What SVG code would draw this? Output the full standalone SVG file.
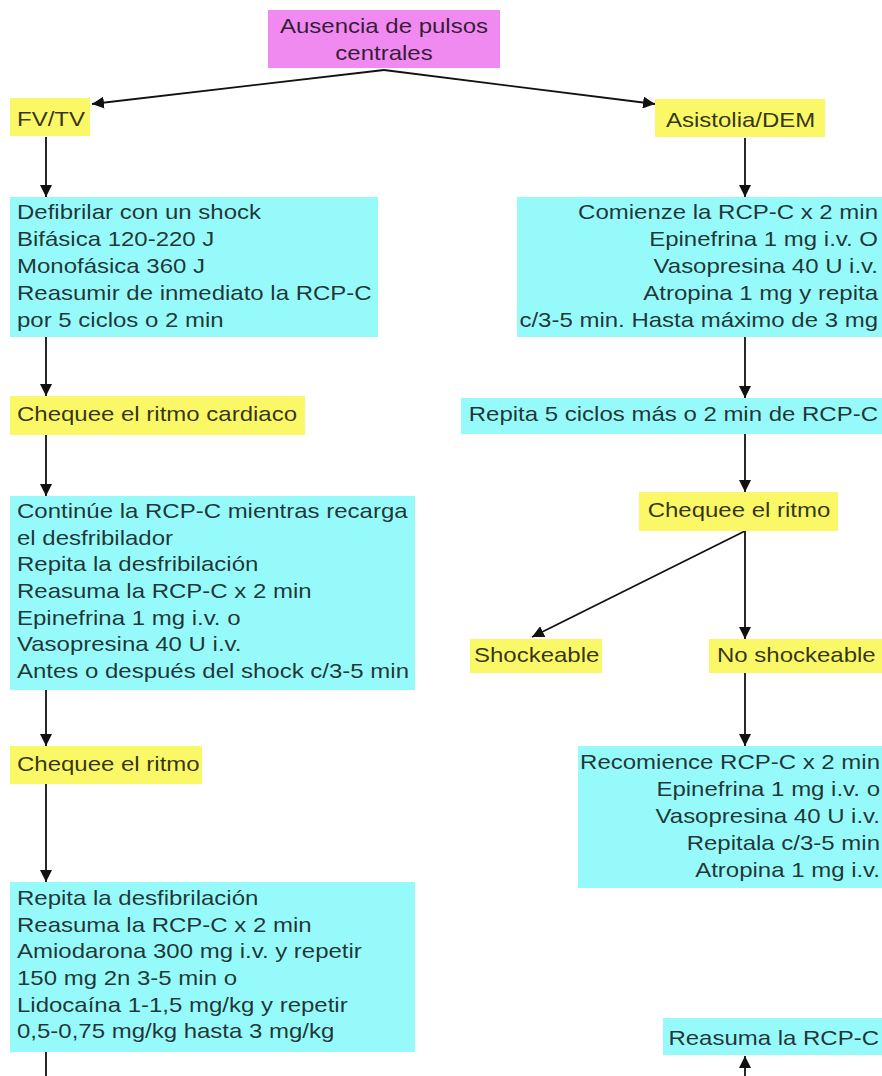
<svg xmlns="http://www.w3.org/2000/svg" width="882" height="1076" viewBox="0 0 882 1076">
<style>
.cy{fill:#97FAFA}
.ye{fill:#FAF866}
.pk{fill:#F08AF0}
text{font-family:"Liberation Sans",Arial,sans-serif;font-size:20px;fill:#000;fill-opacity:0.8}
.e{text-anchor:end}
.m{text-anchor:middle}
.c{stroke:#111;stroke-width:1.8;fill:none;marker-end:url(#ah)}
.cn{stroke:#111;stroke-width:1.8;fill:none}
</style>
<defs>
<marker id="ah" viewBox="0 0 10 10" refX="10" refY="5" markerWidth="12" markerHeight="12" markerUnits="userSpaceOnUse" orient="auto">
<path d="M0,0 L10,5 L0,10 z" fill="#111"/>
</marker>
</defs>
<rect width="882" height="1076" fill="#fff"/>

<g id="connectors">
<path class="c" d="M384,70 L92,104"/>
<path class="c" d="M384,70 L655,104"/>
<path class="c" d="M46,137 V197"/>
<path class="c" d="M745,138 V197"/>
<path class="c" d="M46,337 V396"/>
<path class="c" d="M745,337 V398"/>
<path class="c" d="M46,435 V496"/>
<path class="c" d="M745,434 V492"/>
<path class="c" d="M46,690 V746"/>
<path class="c" d="M745,531 L532,637"/>
<path class="c" d="M745,531 V639"/>
<path class="c" d="M745,673 V746"/>
<path class="c" d="M46,784 V882"/>
<path class="cn" d="M46,1052 V1076"/>
<path class="c" d="M745,1076 V1056"/>
</g>

<g id="n-ausencia">
<rect class="pk" x="268" y="10" width="232" height="58"/>
<g transform="translate(384,0) scale(1.2,1)">
<text class="m" x="0" y="33">Ausencia de pulsos</text>
<text class="m" x="0" y="60">centrales</text>
</g>
</g>

<g id="n-fvtv">
<rect class="ye" x="10" y="98" width="80" height="38"/>
<g transform="translate(17,0) scale(1.2,1)"><text x="0" y="126">FV/TV</text></g>
</g>

<g id="n-asistolia">
<rect class="ye" x="655" y="99" width="170" height="38"/>
<g transform="translate(666,0) scale(1.2,1)"><text x="0" y="127">Asistolia/DEM</text></g>
</g>

<g id="n-defibrilar">
<rect class="cy" x="10" y="197" width="368" height="140"/>
<g transform="translate(17,0) scale(1.2,1)">
<text x="0" y="219">Defibrilar con un shock</text>
<text x="0" y="246">Bifásica 120-220 J</text>
<text x="0" y="273">Monofásica 360 J</text>
<text x="0" y="300">Reasumir de inmediato la RCP-C</text>
<text x="0" y="327">por 5 ciclos o 2 min</text>
</g>
</g>

<g id="n-comienze">
<rect class="cy" x="517" y="197" width="365" height="140"/>
<g transform="translate(878,0) scale(1.2,1)">
<text class="e" x="0" y="219">Comienze la RCP-C x 2 min</text>
<text class="e" x="0" y="246">Epinefrina 1 mg i.v. O</text>
<text class="e" x="0" y="273">Vasopresina 40 U i.v.</text>
<text class="e" x="0" y="300">Atropina 1 mg y repita</text>
<text class="e" x="0" y="327">c/3-5 min. Hasta máximo de 3 mg</text>
</g>
</g>

<g id="n-chequee-cardiaco">
<rect class="ye" x="10" y="396" width="295" height="39"/>
<g transform="translate(17,0) scale(1.2,1)"><text x="0" y="421">Chequee el ritmo cardiaco</text></g>
</g>

<g id="n-repita5">
<rect class="cy" x="461" y="398" width="421" height="36"/>
<g transform="translate(878,0) scale(1.2,1)"><text class="e" x="0" y="421">Repita 5 ciclos más o 2 min de RCP-C</text></g>
</g>

<g id="n-continue">
<rect class="cy" x="10" y="496" width="405" height="194"/>
<g transform="translate(17,0) scale(1.2,1)">
<text x="0" y="518">Continúe la RCP-C mientras recarga</text>
<text x="0" y="545">el desfribilador</text>
<text x="0" y="571">Repita la desfribilación</text>
<text x="0" y="598">Reasuma la RCP-C x 2 min</text>
<text x="0" y="625">Epinefrina 1 mg i.v. o</text>
<text x="0" y="651">Vasopresina 40 U i.v.</text>
<text x="0" y="678">Antes o después del shock c/3-5 min</text>
</g>
</g>

<g id="n-chequee-right">
<rect class="ye" x="639" y="492" width="199" height="39"/>
<g transform="translate(739,0) scale(1.2,1)"><text class="m" x="0" y="517">Chequee el ritmo</text></g>
</g>

<g id="n-shockeable">
<rect class="ye" x="470" y="639" width="132" height="34"/>
<g transform="translate(474,0) scale(1.2,1)"><text x="0" y="662">Shockeable</text></g>
</g>

<g id="n-noshockeable">
<rect class="ye" x="709" y="639" width="173" height="34"/>
<g transform="translate(717,0) scale(1.2,1)"><text x="0" y="662">No shockeable</text></g>
</g>

<g id="n-chequee-left">
<rect class="ye" x="10" y="746" width="192" height="38"/>
<g transform="translate(17,0) scale(1.2,1)"><text x="0" y="771">Chequee el ritmo</text></g>
</g>

<g id="n-recomience">
<rect class="cy" x="578" y="746" width="304" height="142"/>
<g transform="translate(880,0) scale(1.2,1)">
<text class="e" x="0" y="769">Recomience RCP-C x 2 min</text>
<text class="e" x="0" y="796">Epinefrina 1 mg i.v. o</text>
<text class="e" x="0" y="823">Vasopresina 40 U i.v.</text>
<text class="e" x="0" y="850">Repitala c/3-5 min</text>
<text class="e" x="0" y="877">Atropina 1 mg i.v.</text>
</g>
</g>

<g id="n-repita-desf">
<rect class="cy" x="10" y="882" width="405" height="170"/>
<g transform="translate(17,0) scale(1.2,1)">
<text x="0" y="905">Repita la desfibrilación</text>
<text x="0" y="932">Reasuma la RCP-C x 2 min</text>
<text x="0" y="958">Amiodarona 300 mg i.v. y repetir</text>
<text x="0" y="985">150 mg 2n 3-5 min o</text>
<text x="0" y="1012">Lidocaína 1-1,5 mg/kg y repetir</text>
<text x="0" y="1038">0,5-0,75 mg/kg hasta 3 mg/kg</text>
</g>
</g>

<g id="n-reasuma">
<rect class="cy" x="663" y="1018" width="219" height="37"/>
<g transform="translate(879,0) scale(1.2,1)"><text class="e" x="0" y="1045">Reasuma la RCP-C</text></g>
</g>
</svg>
